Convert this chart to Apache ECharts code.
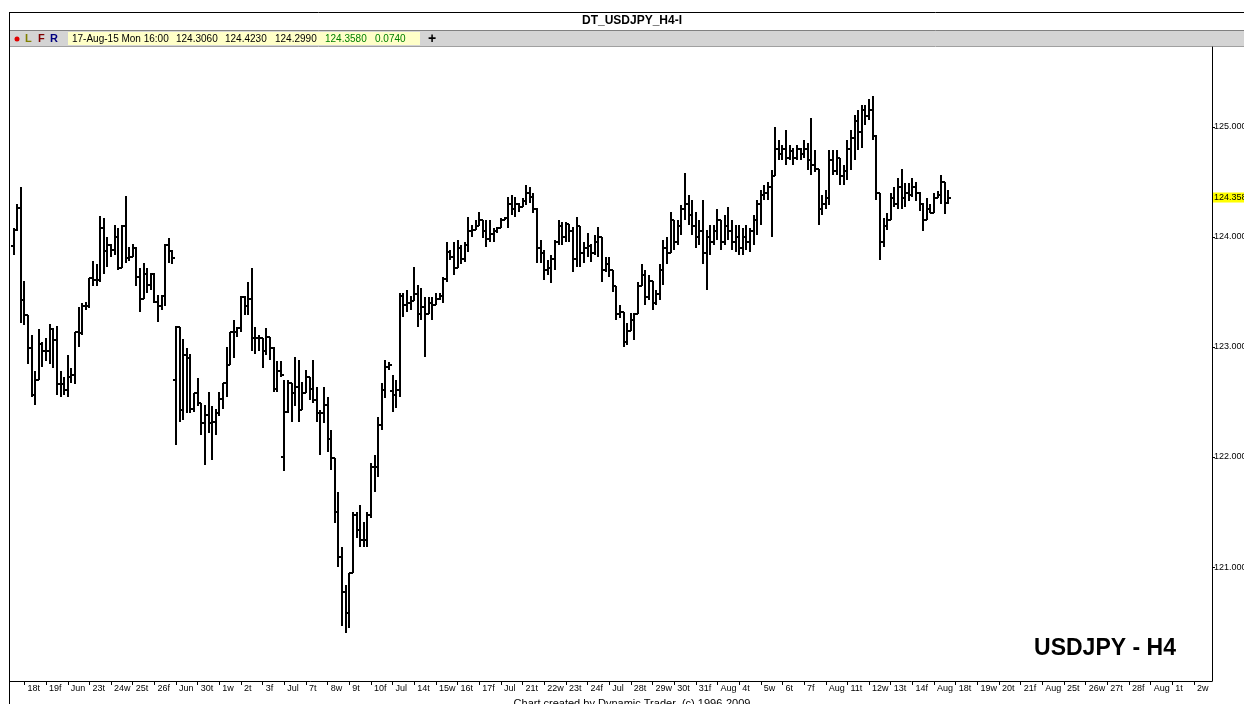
<!DOCTYPE html>
<html><head><meta charset="utf-8">
<script src="https://cdn.jsdelivr.net/npm/echarts@6/dist/echarts.min.js"></script>
<style>html,body{margin:0;padding:0;background:#fff;overflow:hidden}#c{width:1244px;height:704px}</style>
</head><body><div id="c"></div>
<script>
// ---- day labels along the time axis (one per trading day, starting 18 Jun 2015) ----
const dayLabels = ['18t','19f','Jun','23t','24w','25t','26f','Jun','30t','1w','2t','3f','Jul','7t','8w','9t','10f','Jul','14t','15w','16t','17f','Jul','21t','22w','23t','24f','Jul','28t','29w','30t','31f','Aug','4t','5w','6t','7f','Aug','11t','12w','13t','14f','Aug','18t','19w','20t','21f','Aug','25t','26w','27t','28f','Aug','1t','2w'];

// ---- H4 OHLC bars, 17 Jun 12:00 .. 17 Aug 16:00 (6 bars per day) ----
const opens = [
 123.92,124.06,124.26,
 123.43,123.29,122.99,122.56,122.70,123.03,
 122.96,122.96,123.16,123.06,122.66,122.66,
 122.61,122.73,122.75,123.14,123.13,123.37,
 123.37,123.63,123.61,123.61,124.08,123.87,
 123.93,123.88,124.00,123.72,124.10,123.81,
 123.82,123.90,123.64,123.44,123.66,123.56,
 123.66,123.41,123.37,123.46,123.93,123.87,
 122.70,123.18,122.43,122.93,122.90,122.44,
 122.58,122.49,122.31,122.38,122.31,122.32,
 122.40,122.53,122.67,122.84,123.14,123.14,
 123.17,123.45,123.37,123.44,123.08,123.08,
 123.08,122.96,123.09,122.99,122.62,122.78,
 122.00,122.41,122.67,122.58,122.64,122.43,
 122.58,122.73,122.62,122.52,122.40,122.40,
 122.47,122.16,121.99,121.50,121.09,120.77,
 120.58,120.95,121.47,121.34,121.25,121.25,
 121.47,121.91,121.91,122.29,122.61,122.82,
 122.60,122.56,122.61,123.46,123.38,123.40,
 123.42,123.48,123.30,123.36,123.30,123.40,
 123.38,123.44,123.46,123.62,123.86,123.82,
 123.72,123.90,123.80,123.93,124.05,124.06,
 124.10,124.15,124.05,123.98,124.03,124.05,
 124.08,124.15,124.17,124.30,124.25,124.30,
 124.27,124.33,124.40,124.36,124.25,123.90,
 123.85,123.70,123.72,123.80,123.95,124.10,
 124.00,124.12,124.05,123.80,124.10,123.85,
 123.90,123.92,123.85,123.95,124.00,123.70,
 123.75,123.70,123.55,123.30,123.32,123.05,
 123.15,123.25,123.30,123.55,123.65,123.45,
 123.60,123.40,123.48,123.70,123.90,123.85,
 124.15,123.95,124.10,124.25,124.30,124.20,
 124.10,124.00,124.05,123.85,124.00,123.95,
 124.05,124.15,123.95,124.10,124.05,123.95,
 124.00,123.90,124.00,123.95,124.05,124.15,
 124.30,124.38,124.40,124.45,124.55,124.80,
 124.75,124.80,124.72,124.78,124.72,124.80,
 124.75,124.80,124.70,124.65,124.62,124.25,
 124.30,124.35,124.70,124.60,124.72,124.55,
 124.60,124.80,124.90,125.05,124.95,125.15,
 125.10,125.15,124.92,124.40,123.95,124.10,
 124.15,124.35,124.30,124.45,124.35,124.40,
 124.38,124.45,124.40,124.30,124.15,124.25,
 124.22,124.35,124.38,124.50,124.306
];
const highs = [
 124.08,124.30,124.45,
 123.60,123.29,123.11,122.78,123.16,123.05,
 123.08,123.21,123.17,123.19,122.78,122.73,
 122.93,122.81,123.14,123.36,123.40,123.41,
 123.63,123.78,123.75,124.19,124.17,124.00,
 123.94,124.11,124.08,124.11,124.37,123.91,
 123.94,123.91,123.72,123.76,123.72,123.67,
 123.67,123.47,123.47,123.94,123.99,123.88,
 123.19,123.18,123.07,122.99,122.94,122.58,
 122.72,122.49,122.47,122.59,122.46,122.44,
 122.59,122.67,123.00,123.14,123.25,123.18,
 123.46,123.46,123.59,123.72,123.18,123.11,
 123.08,123.17,123.09,123.00,122.87,122.87,
 122.70,122.70,122.67,122.91,122.88,122.68,
 122.79,122.73,122.88,122.64,122.43,122.64,
 122.55,122.25,121.99,121.68,121.18,120.84,
 120.95,121.50,121.50,121.56,121.41,121.50,
 121.95,122.02,122.36,122.67,122.88,122.86,
 122.75,122.70,123.49,123.49,123.52,123.46,
 123.73,123.56,123.54,123.45,123.45,123.45,
 123.49,123.49,123.64,123.95,123.88,123.95,
 123.97,123.93,123.95,124.18,124.11,124.15,
 124.23,124.15,124.15,124.15,124.08,124.09,
 124.17,124.18,124.36,124.38,124.36,124.31,
 124.35,124.47,124.45,124.40,124.26,123.97,
 123.88,123.79,123.84,123.97,124.15,124.14,
 124.14,124.12,124.09,124.18,124.10,123.95,
 124.04,123.94,124.02,124.09,124.00,123.82,
 123.82,123.70,123.55,123.38,123.32,123.22,
 123.31,123.31,123.59,123.75,123.70,123.65,
 123.60,123.52,123.75,123.97,124.00,124.23,
 124.15,124.15,124.29,124.58,124.38,124.34,
 124.23,124.15,124.34,124.06,124.11,124.11,
 124.25,124.15,124.20,124.27,124.15,124.11,
 124.11,124.08,124.11,124.08,124.20,124.34,
 124.43,124.47,124.50,124.61,125.00,124.88,
 124.84,124.97,124.84,124.81,124.84,124.81,
 124.88,124.85,125.08,124.79,124.62,124.38,
 124.43,124.79,124.79,124.79,124.72,124.65,
 124.88,124.97,125.11,125.15,125.20,125.20,
 125.25,125.28,124.93,124.40,124.17,124.22,
 124.40,124.45,124.54,124.62,124.49,124.49,
 124.54,124.50,124.41,124.31,124.35,124.30,
 124.40,124.42,124.56,124.50,124.423
];
const lows = [
 123.84,124.05,123.22,
 123.20,122.85,122.55,122.47,122.70,122.82,
 122.87,122.85,122.81,122.56,122.55,122.56,
 122.55,122.67,122.66,123.00,123.11,123.34,
 123.35,123.55,123.55,123.59,123.66,123.73,
 123.82,123.84,123.70,123.72,123.76,123.78,
 123.82,123.55,123.32,123.44,123.49,123.52,
 123.40,123.23,123.34,123.37,123.76,123.75,
 122.11,122.32,122.34,122.40,122.40,122.41,
 122.46,122.20,121.93,122.22,121.97,122.20,
 122.37,122.44,122.55,122.84,122.90,123.09,
 123.14,123.29,123.29,122.96,122.94,122.96,
 122.81,122.93,122.88,122.59,122.59,122.73,
 121.87,122.40,122.32,122.46,122.32,122.43,
 122.58,122.52,122.49,122.32,122.02,122.31,
 122.05,121.88,121.40,121.00,120.46,120.40,
 120.45,120.95,121.26,121.18,121.18,121.18,
 121.45,121.68,121.82,122.25,122.54,122.79,
 122.41,122.45,122.55,123.27,123.32,123.34,
 123.42,123.18,123.25,122.91,123.30,123.25,
 123.38,123.43,123.40,123.59,123.79,123.65,
 123.72,123.75,123.77,123.86,124.00,124.06,
 124.10,123.99,123.91,123.95,123.95,124.04,
 124.08,124.15,124.08,124.20,124.18,124.23,
 124.27,124.29,124.31,124.22,123.76,123.76,
 123.61,123.65,123.58,123.70,123.93,123.93,
 123.95,123.95,123.68,123.73,123.73,123.76,
 123.82,123.77,123.84,123.82,123.59,123.68,
 123.64,123.50,123.25,123.26,123.00,123.02,
 123.15,123.06,123.30,123.55,123.38,123.43,
 123.34,123.38,123.43,123.56,123.75,123.85,
 123.88,123.93,124.02,124.15,124.11,124.02,
 123.90,123.93,123.75,123.52,123.84,123.93,
 123.97,123.88,123.93,123.97,123.88,123.86,
 123.84,123.84,123.88,123.86,123.93,124.02,
 124.11,124.34,124.34,124.00,124.55,124.70,
 124.70,124.65,124.70,124.65,124.70,124.70,
 124.72,124.61,124.56,124.59,124.11,124.20,
 124.25,124.29,124.56,124.56,124.47,124.47,
 124.52,124.61,124.70,124.79,124.81,125.02,
 125.06,124.88,124.34,123.79,123.91,124.06,
 124.15,124.27,124.25,124.25,124.27,124.33,
 124.36,124.33,124.24,124.05,124.15,124.22,
 124.22,124.35,124.30,124.21,124.299
];
const closes = [
 124.06,124.26,123.43,
 123.29,122.99,122.56,122.70,123.03,122.96,
 122.96,123.16,123.06,122.66,122.66,122.61,
 122.73,122.75,123.14,123.13,123.37,123.37,
 123.63,123.61,123.61,124.08,123.87,123.93,
 123.88,124.00,123.72,124.10,123.81,123.82,
 123.90,123.64,123.44,123.66,123.56,123.66,
 123.41,123.37,123.46,123.93,123.87,123.81,
 123.18,122.43,122.93,122.90,122.44,122.58,
 122.49,122.31,122.38,122.31,122.32,122.40,
 122.53,122.67,122.84,123.14,123.14,123.17,
 123.45,123.37,123.44,123.08,123.08,123.08,
 122.96,123.09,122.99,122.62,122.78,122.75,
 122.41,122.67,122.58,122.64,122.43,122.58,
 122.73,122.62,122.52,122.40,122.40,122.47,
 122.16,121.99,121.50,121.09,120.77,120.58,
 120.95,121.47,121.34,121.25,121.25,121.47,
 121.91,121.91,122.29,122.61,122.82,122.84,
 122.56,122.61,123.46,123.38,123.40,123.42,
 123.48,123.30,123.36,123.30,123.40,123.38,
 123.44,123.46,123.62,123.86,123.82,123.72,
 123.90,123.80,123.93,124.05,124.06,124.10,
 124.15,124.05,123.98,124.03,124.05,124.08,
 124.15,124.17,124.30,124.25,124.30,124.27,
 124.33,124.40,124.36,124.25,123.90,123.85,
 123.70,123.72,123.80,123.95,124.10,124.00,
 124.12,124.05,123.80,124.10,123.85,123.90,
 123.92,123.85,123.95,124.00,123.70,123.75,
 123.70,123.55,123.30,123.32,123.05,123.15,
 123.25,123.30,123.55,123.65,123.45,123.60,
 123.40,123.48,123.70,123.90,123.85,124.15,
 123.95,124.10,124.25,124.30,124.20,124.10,
 124.00,124.05,123.85,124.00,123.95,124.05,
 124.15,123.95,124.10,124.05,123.95,124.00,
 123.90,124.00,123.95,124.05,124.15,124.30,
 124.38,124.40,124.45,124.55,124.80,124.75,
 124.80,124.72,124.78,124.72,124.80,124.75,
 124.80,124.70,124.65,124.62,124.25,124.30,
 124.35,124.70,124.60,124.72,124.55,124.60,
 124.80,124.90,125.05,124.95,125.15,125.10,
 125.15,124.92,124.40,123.95,124.10,124.15,
 124.35,124.30,124.45,124.35,124.40,124.38,
 124.45,124.40,124.30,124.15,124.25,124.22,
 124.35,124.38,124.50,124.31,124.358
];
const priceTicks = [121, 122, 123, 124, 125];
const lastPrice = 124.358;
const headerValues = ['17-Aug-15 Mon 16:00', '124.3060', '124.4230', '124.2990', '124.3580', '0.0740'];

// ---- slot layout: one category per 4h bar; slot k=-4 .. 329 (k=0 is 18 Jun 00:00) ----
const FIRST_K = -4, LAST_K = 329, DATA_K0 = -3;
const cats = [];
for (let k = FIRST_K; k <= LAST_K; k++) {
  cats.push(k >= 0 && k % 6 === 0 && (k / 6) < dayLabels.length ? dayLabels[k / 6] : '');
}
const bars = opens.map((o, i) => [i + (DATA_K0 - FIRST_K), o, highs[i], lows[i], closes[i]]);

function renderItem(params, api) {
  const idx = api.value(0);
  const pO = api.coord([idx, api.value(1)]);
  const pH = api.coord([idx, api.value(2)]);
  const pL = api.coord([idx, api.value(3)]);
  const pC = api.coord([idx, api.value(4)]);
  const x = Math.round(pO[0]);
  const yO = Math.round(pO[1]), yH = Math.round(pH[1]), yL = Math.round(pL[1]), yC = Math.round(pC[1]);
  const st = { stroke: '#000', lineWidth: 2 };
  return { type: 'group', children: [
    { type: 'line', shape: { x1: x, y1: yH, x2: x, y2: Math.max(yL, yH + 1) }, style: st },
    { type: 'line', shape: { x1: x - 3, y1: yO, x2: x, y2: yO }, style: st },
    { type: 'line', shape: { x1: x, y1: yC, x2: x + 3, y2: yC }, style: st }
  ]};
}

const FONT = '"Liberation Sans", Arial, sans-serif';
const chart = echarts.init(document.getElementById('c'), null, { renderer: 'canvas' });
const hdrX = [72, 176, 225, 275, 325, 375];
const hdrColors = ['#000', '#000', '#000', '#000', '#008000', '#008000'];
const graphics = [
  { type: 'line', shape: { x1: 10, y1: 12.5, x2: 1244, y2: 12.5 }, style: { stroke: '#000', lineWidth: 1 } },
  { type: 'line', shape: { x1: 9.5, y1: 12, x2: 9.5, y2: 704 }, style: { stroke: '#000', lineWidth: 1 } },
  { type: 'text', x: 632, y: 21, style: { text: 'DT_USDJPY_H4-I', font: 'bold 12px ' + FONT, fill: '#000', align: 'center', verticalAlign: 'middle' } },
  { type: 'rect', shape: { x: 10, y: 30, width: 1234, height: 16 }, style: { fill: '#d4d4d4' } },
  { type: 'line', shape: { x1: 10, y1: 30.5, x2: 1244, y2: 30.5 }, style: { stroke: '#808080', lineWidth: 1 } },
  { type: 'line', shape: { x1: 10, y1: 46.5, x2: 1244, y2: 46.5 }, style: { stroke: '#a0a0a0', lineWidth: 1 } },
  { type: 'circle', shape: { cx: 17, cy: 39, r: 2.5 }, style: { fill: '#e00000' } },
  { type: 'text', x: 25, y: 39, style: { text: 'L', font: 'bold 11px ' + FONT, fill: '#808000', verticalAlign: 'middle' } },
  { type: 'text', x: 38, y: 39, style: { text: 'F', font: 'bold 11px ' + FONT, fill: '#800000', verticalAlign: 'middle' } },
  { type: 'text', x: 50, y: 39, style: { text: 'R', font: 'bold 11px ' + FONT, fill: '#000080', verticalAlign: 'middle' } },
  { type: 'rect', shape: { x: 68, y: 32, width: 352, height: 13 }, style: { fill: '#ffffc8' } },
  { type: 'text', x: 432, y: 39, style: { text: '+', font: 'bold 14px ' + FONT, fill: '#000', align: 'center', verticalAlign: 'middle' } },
  { type: 'text', x: 1105, y: 649, style: { text: 'USDJPY - H4', font: 'bold 23px ' + FONT, fill: '#000', align: 'center', verticalAlign: 'middle' } },
  { type: 'text', x: 632, y: 698, style: { text: 'Chart created by Dynamic Trader  (c) 1996-2009', font: '11px ' + FONT, fill: '#000', align: 'center', verticalAlign: 'top' } }
];
headerValues.forEach((t, i) => graphics.push({ type: 'text', x: hdrX[i], y: 39, style: { text: t, font: '10px ' + FONT, fill: hdrColors[i], verticalAlign: 'middle' } }));

chart.setOption({
  animation: false,
  backgroundColor: '#fff',
  grid: { left: 10, right: 32, top: 47, bottom: 23, containLabel: false, outerBoundsMode: 'none' },
  xAxis: {
    type: 'category', data: cats, boundaryGap: false,
    axisLine: { show: true, lineStyle: { color: '#000', width: 1 } },
    axisTick: { show: true, interval: (i, v) => v !== '', length: 4, lineStyle: { color: '#000' } },
    axisLabel: { show: true, interval: (i, v) => v !== '', align: 'left', padding: [0, 0, 0, 3], margin: 3, fontSize: 9, color: '#000', fontFamily: FONT },
    splitLine: { show: false }
  },
  yAxis: {
    type: 'value', position: 'right', min: 119.964, max: 125.727,
    axisLine: { show: true, lineStyle: { color: '#000' } },
    axisTick: { show: true, length: 3, customValues: priceTicks, lineStyle: { color: '#000' } },
    axisLabel: { customValues: priceTicks, formatter: v => v.toFixed(3), margin: 2, fontSize: 9, color: '#000', fontFamily: FONT },
    splitLine: { show: false }
  },
  series: [{
    type: 'custom', renderItem: renderItem, data: bars,
    encode: { x: 0, y: [1, 2, 3, 4] }, clip: false
  }, {
    type: 'line', data: [], silent: true,
    markLine: {
      silent: true, symbol: 'none', animation: false,
      lineStyle: { width: 0, color: 'rgba(0,0,0,0)' },
      label: { show: true, position: 'end', distance: 1, formatter: () => lastPrice.toFixed(3), backgroundColor: '#ffff00', color: '#000', fontSize: 9, fontFamily: FONT, padding: [1, 1, 0, 1], opacity: 1 },
      data: [{ yAxis: lastPrice }]
    }
  }],
  graphic: graphics
});
</script></body></html>
